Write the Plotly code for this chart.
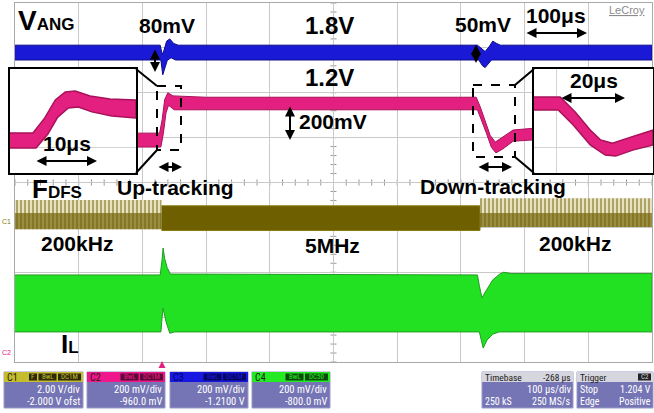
import plotly.graph_objects as go

W, H = 654, 413

# ---------------- data ----------------
# time axis in µs (100 µs/div, 10 div); amplitude in screen divisions (0 = bottom, 8 = top)
# C3  V_ANG (blue): upper / lower envelope of the displayed trace
vang_t_up = [0, 228, 231, 234, 238, 243, 249, 256, 726, 732, 738, 744, 750, 756, 762, 1000]
vang_up   = [7.06, 7.06, 6.85, 6.95, 7.15, 7.20, 7.10, 7.06, 7.06, 6.98, 6.92, 7.02, 7.15, 7.10, 7.06, 7.06]
vang_t_lo = [0, 229, 232, 235, 239, 245, 252, 728, 734, 738, 743, 748, 1000]
vang_lo   = [6.73, 6.73, 6.40, 6.55, 6.72, 6.78, 6.73, 6.73, 6.60, 6.56, 6.64, 6.73, 6.73]

# C2  output voltage (pink)
vo_t_up = [190, 227, 231, 235, 240, 248, 300, 724, 730, 738, 746, 754, 765, 782, 815]
vo_up   = [5.10, 5.10, 5.40, 5.85, 6.00, 5.93, 5.90, 5.90, 5.70, 5.39, 5.05, 4.90, 5.00, 5.17, 5.21]
vo_t_lo = [190, 229, 233, 237, 241, 250, 300, 726, 732, 740, 748, 755, 766, 782, 815]
vo_lo   = [4.79, 4.79, 5.10, 5.55, 5.72, 5.62, 5.62, 5.62, 5.40, 5.10, 4.78, 4.66, 4.75, 4.92, 4.95]

# C1  F_DFS (olive): three frequency segments
fdfs_t0   = [0, 230, 730]
fdfs_t1   = [230, 730, 1000]
fdfs_hi   = [3.61, 3.48, 3.65]
fdfs_core = [3.32, 3.48, 3.32]
fdfs_lo   = [2.96, 2.93, 3.01]
fdfs_freq = ['200kHz', '5MHz', '200kHz']

# C4  I_L (green)
il_t_up = [0, 228, 231, 232.5, 235, 239, 244, 726, 729, 733, 740, 750, 761, 767, 780, 1000]
il_up   = [1.94, 1.94, 2.30, 2.54, 2.30, 2.10, 1.96, 1.94, 1.70, 1.43, 1.60, 1.83, 1.96, 2.00, 1.97, 1.97]
il_t_lo = [0, 229, 231, 232.5, 237, 243, 250, 729, 732, 735, 741, 750, 760, 1000]
il_lo   = [0.67, 0.67, 1.00, 1.20, 0.90, 0.64, 0.67, 0.67, 0.50, 0.31, 0.49, 0.62, 0.67, 0.67]

# zoom insets of C2 (µs from inset left edge; inset divisions)
up_t_up = [0, 3.7, 5.6, 7.3, 8.9, 10.5, 12.9, 16.1, 20.3]
up_up   = [1.54, 1.54, 2.12, 2.81, 3.12, 3.15, 2.96, 2.85, 2.81]
up_t_lo = [0, 4.2, 6.1, 7.7, 9.4, 11.0, 13.2, 16.4, 20.3]
up_lo   = [0.96, 0.96, 1.50, 2.15, 2.50, 2.54, 2.35, 2.19, 2.12]

dn_t_up = [0, 4.0, 6.3, 8.6, 10.2, 12.0, 14.8, 18.2]
dn_up   = [2.92, 2.92, 2.35, 1.65, 1.27, 1.15, 1.38, 1.65]
dn_t_lo = [0, 3.7, 6.0, 8.6, 10.9, 12.5, 15.1, 18.2]
dn_lo   = [2.42, 2.42, 1.85, 1.08, 0.69, 0.65, 0.88, 1.08]

# scope read-outs
ch_names  = ['C1', 'C2', 'C3', 'C4']
ch_badges = [['F', 'BwL', 'DC1M'], ['BwL', 'DC1M'], ['BwL', 'DC1M'], ['BwL', 'DC50']]
ch_vdiv   = ['2.00 V/div', '200 mV/div', '200 mV/div', '200 mV/div']
ch_offset = ['-2.000 V ofst', '-960.0 mV', '-1.2100 V', '-800.0 mV']
timebase  = ['Timebase', '-268 μs', '100 μs/div', '250 kS', '250 MS/s']
trigger   = ['Trigger', 'C2', 'Stop', '1.204 V', 'Edge', 'Positive']

# ---------------- styling ----------------
FONT = 'Liberation Sans, Arial, sans-serif'
NARROW = 'Liberation Sans Narrow, Arial Narrow, Roboto Condensed, Liberation Sans, Arial, sans-serif'
BLUE, BLUE_E = '#1a1ad6', '#0c0c8c'
PINK, PINK_E = '#e3207f', '#a9115a'
OLIVE = '#6e5f00'
GREEN, GREEN_E = '#22e022', '#239c23'
CH_HEAD = ['#c5bd2e', '#f0168c', '#1818e2', '#24ea24']
CH_BADGE_BG = ['#2c2a08', '#5c0a34', '#06065e', '#0b4a0b']
BODY = '#7574b4'


def px(x):
    return x / W


def py(y):
    return 1 - y / H


fig = go.Figure()


def band(t_up, up, t_lo, lo, fill, edge, xa='x', ya='y', width=1.0, pattern=None):
    xs = list(t_up) + list(reversed(t_lo))
    ys = list(up) + list(reversed(lo))
    kw = {}
    if pattern is not None:
        kw['fillpattern'] = pattern
    fig.add_trace(go.Scatter(x=xs, y=ys, fill='toself', fillcolor=fill, mode='lines',
                             line=dict(color=edge, width=width), xaxis=xa, yaxis=ya,
                             hoverinfo='skip', showlegend=False, **kw))


# C3
band(vang_t_up, vang_up, vang_t_lo, vang_lo, BLUE, BLUE_E)
# C2
band(vo_t_up, vo_up, vo_t_lo, vo_lo, PINK, PINK_E)
# C1
for t0, t1, hi, core, lo, f in zip(fdfs_t0, fdfs_t1, fdfs_hi, fdfs_core, fdfs_lo, fdfs_freq):
    if f == '5MHz':
        band([t0, t1], [hi, hi], [t0, t1], [lo, lo], OLIVE, '#8a7a10', width=1)
    else:
        band([t0, t1], [hi, hi], [t0, t1], [lo, lo], '#efead0', 'rgba(0,0,0,0)', width=0,
             pattern=dict(shape='|', fgcolor=OLIVE, bgcolor='#eee9cc', size=4, solidity=0.55))
        band([t0, t1], [core, core], [t0, t1], [lo, lo], 'rgba(110,95,0,0.65)', 'rgba(0,0,0,0)', width=0)
# C4
band(il_t_up, il_up, il_t_lo, il_lo, GREEN, GREEN_E)
# insets
band(up_t_up, up_up, up_t_lo, up_lo, PINK, PINK_E, 'x2', 'y2', width=1.5)
band(dn_t_up, dn_up, dn_t_lo, dn_lo, PINK, PINK_E, 'x3', 'y3', width=1.5)

GRID = '#c9c9c9'
main_x = dict(domain=[px(15), px(652)], range=[0, 1000], tickvals=list(range(0, 1001, 100)),
              showgrid=True, gridcolor=GRID, gridwidth=1, showticklabels=False, ticks='',
              zeroline=False, showline=True, linecolor='#a9a9a9', linewidth=1, mirror=True,
              fixedrange=True)
main_y = dict(domain=[py(362), py(3)], range=[0, 8], tickvals=list(range(0, 9)),
              showgrid=True, gridcolor=GRID, gridwidth=1, showticklabels=False, ticks='',
              zeroline=False, showline=True, linecolor='#a9a9a9', linewidth=1, mirror=True,
              fixedrange=True)


def inset_axes(x0, x1, xr, xgrid):
    xa = dict(domain=[px(x0), px(x1)], range=xr, showticklabels=False, ticks='', zeroline=False,
              showline=True, linecolor='black', linewidth=2, mirror=True,
              tickvals=xgrid, showgrid=bool(xgrid), gridcolor='#d4d4d4', fixedrange=True)
    ya = dict(domain=[py(173), py(69)], range=[0, 4], showticklabels=False, ticks='', zeroline=False,
              showline=True, linecolor='black', linewidth=2, mirror=True,
              tickvals=[1.0], showgrid=True, gridcolor='#d4d4d4', fixedrange=True)
    return xa, ya


x2, y2 = inset_axes(10, 136, [0, 20.3], [])
x3, y3 = inset_axes(534, 653, [0, 18.2], [3.5])
x2['anchor'] = 'y2'; y2['anchor'] = 'x2'
x3['anchor'] = 'y3'; y3['anchor'] = 'x3'

shapes = []
# centre-line minor ticks
for k in range(0, 51):
    t = k * 20
    shapes.append(dict(type='line', xref='x', yref='y', x0=t, x1=t, y0=4 - 0.07, y1=4 + 0.07,
                       line=dict(color='#9a9a9a', width=1), layer='below'))
for k in range(0, 41):
    v = k * 0.2
    shapes.append(dict(type='line', xref='x', yref='y', x0=495.3, x1=504.7, y0=v, y1=v,
                       line=dict(color='#9a9a9a', width=1), layer='below'))


def pline(x0, y0, x1, y1, color='black', width=2, dash=None):
    d = dict(color=color, width=width)
    if dash:
        d['dash'] = dash
    shapes.append(dict(type='line', xref='paper', yref='paper', x0=px(x0), y0=py(y0),
                       x1=px(x1), y1=py(y1), line=d))


def prect(x0, y0, x1, y1, fill, line='rgba(0,0,0,0)', width=0, dash=None):
    d = dict(color=line, width=width)
    if dash:
        d['dash'] = dash
    shapes.append(dict(type='rect', xref='paper', yref='paper', x0=px(x0), y0=py(y0),
                       x1=px(x1), y1=py(y1), fillcolor=fill, line=d))


# dashed zoom boxes + connectors
prect(157, 86, 181, 150, 'rgba(0,0,0,0)', 'black', 2, 'dash')
prect(473, 85, 515, 157, 'rgba(0,0,0,0)', 'black', 2, 'dash')
pline(136, 69, 157, 86)
pline(136, 173, 157, 150)
pline(515, 85, 534, 69)
pline(515, 157, 534, 173)

# trigger marker
shapes.append(dict(type='path', xref='paper', yref='paper',
                   path=f'M {px(158.5)} {py(368)} L {px(165.5)} {py(368)} L {px(162)} {py(361)} Z',
                   fillcolor='#e3207f', line=dict(width=0)))

annotations = []


def ann(text, x, y, size, color='black', xanchor='center', yanchor='middle', family=FONT):
    annotations.append(dict(text=text, x=px(x), y=py(y), xref='paper', yref='paper', showarrow=False,
                            xanchor=xanchor, yanchor=yanchor,
                            font=dict(family=family, size=size, color=color), borderpad=0))


def arrow(x0, y0, x1, y1):
    annotations.append(dict(text='', x=px(x1), y=py(y1), xref='paper', yref='paper',
                            ax=x0 - x1, ay=y0 - y1, showarrow=True, arrowside='end+start',
                            arrowhead=2, arrowsize=1, arrowwidth=2, arrowcolor='black',
                            standoff=0, startstandoff=0))


# text labels (big letter + smaller baseline-aligned suffix)
ann("<b>V<span style='font-size:17px'>ANG</span></b>", 17, 21, 28, xanchor='left')
ann('<b>80mV</b>', 167, 26, 21)
ann('<b>1.8V</b>', 329, 26, 24)
ann('<b>50mV</b>', 483, 25, 21)
ann('<b>100μs</b>', 556, 16, 21)
ann('<u>LeCroy</u>', 627, 10, 11, color='#8c8c8c')
ann('<b>1.2V</b>', 329, 78, 24)
ann('<b>200mV</b>', 333, 122, 21)
ann('<b>10μs</b>', 67, 143, 21)
ann('<b>20μs</b>', 594, 80, 21)
ann('<b>Up-tracking</b>', 175, 187, 21)
ann('<b>Down-tracking</b>', 493, 186, 21)
ann("<b>F<span style='font-size:17px'>DFS</span></b>", 31, 189, 26, xanchor='left')
ann('<b>' + fdfs_freq[0] + '</b>', 77, 244, 21)
ann('<b>' + fdfs_freq[1] + '</b>', 333, 245, 21)
ann('<b>' + fdfs_freq[2] + '</b>', 575, 244, 21)
ann("<b>I<span style='font-size:17px'>L</span></b>", 60, 344, 26, xanchor='left')
ann('C1', 1, 221, 7, color='#8a7a10', xanchor='left')
ann('C2', 1, 352, 7, color='#e3207f', xanchor='left')

# arrows
arrow(155, 48, 155, 72)
arrow(476, 43, 476, 63)
arrow(525, 33, 587, 33)
arrow(290, 105, 290, 140)
arrow(35, 161, 97, 161)
arrow(560, 98, 625, 98)
arrow(157, 167, 182, 167)
arrow(477, 167, 512, 167)

# channel read-out boxes
box_x0 = [4, 87, 170, 252]
box_x1 = [83, 165, 248, 330]
HEAD_Y0, HEAD_Y1, BODY_Y1 = 372, 382, 408
for i in range(4):
    x0, x1 = box_x0[i], box_x1[i]
    prect(x0, HEAD_Y0, x1, BODY_Y1, BODY, '#9a99c8', 1)
    prect(x0, HEAD_Y0, x1, HEAD_Y1, CH_HEAD[i])
    ann(ch_names[i], x0 + 2, 377, 10, color='#20200a' if i != 2 else '#000060', xanchor='left',
        family=NARROW)
    right = x1 - 2
    for b in reversed(ch_badges[i]):
        wdt = 3 + 5.0 * len(b)
        prect(right - wdt, 373.5, right, 380.5, CH_BADGE_BG[i])
        ann(b, right - wdt / 2, 377, 7, color=CH_HEAD[i], family=NARROW)
        right -= wdt + 1.5
    ann(ch_vdiv[i], x1 - 2, 389, 10.5, color='white', xanchor='right', family=NARROW)
    ann(ch_offset[i], x1 - 2, 401, 10.5, color='white', xanchor='right', family=NARROW)

# timebase box
prect(482, HEAD_Y0, 573, BODY_Y1, BODY, '#9a99c8', 1)
prect(482, HEAD_Y0, 573, HEAD_Y1, '#d6d6de')
ann(timebase[0], 484, 377, 9.5, color='#222', xanchor='left', family=NARROW)
ann(timebase[1], 572, 377, 9.5, color='#222', xanchor='right', family=NARROW)
ann(timebase[2], 572, 389, 10.5, color='white', xanchor='right', family=NARROW)
ann(timebase[3], 484, 401, 10, color='white', xanchor='left', family=NARROW)
ann(timebase[4], 572, 401, 10, color='white', xanchor='right', family=NARROW)

# trigger box
prect(577, HEAD_Y0, 653, BODY_Y1, BODY, '#9a99c8', 1)
prect(577, HEAD_Y0, 653, HEAD_Y1, '#d6d6de')
ann(trigger[0], 579, 377, 9.5, color='#222', xanchor='left', family=NARROW)
prect(638, 373.5, 651, 380.5, '#222')
ann(trigger[1], 644.5, 377, 7, color='#d6d6de', family=NARROW)
ann(trigger[2], 579, 389, 10, color='white', xanchor='left', family=NARROW)
ann(trigger[3], 652, 389, 10, color='white', xanchor='right', family=NARROW)
ann(trigger[4], 579, 401, 10, color='white', xanchor='left', family=NARROW)
ann(trigger[5], 652, 401, 10, color='white', xanchor='right', family=NARROW)

fig.update_layout(
    width=W, height=H, margin=dict(l=0, r=0, t=0, b=0, pad=0),
    paper_bgcolor='white', plot_bgcolor='white', showlegend=False,
    xaxis=main_x, yaxis=main_y, xaxis2=x2, yaxis2=y2, xaxis3=x3, yaxis3=y3,
    shapes=shapes, annotations=annotations, font=dict(family=FONT),
)

fig.write_html('out.html', config={'displayModeBar': False, 'staticPlot': True})
